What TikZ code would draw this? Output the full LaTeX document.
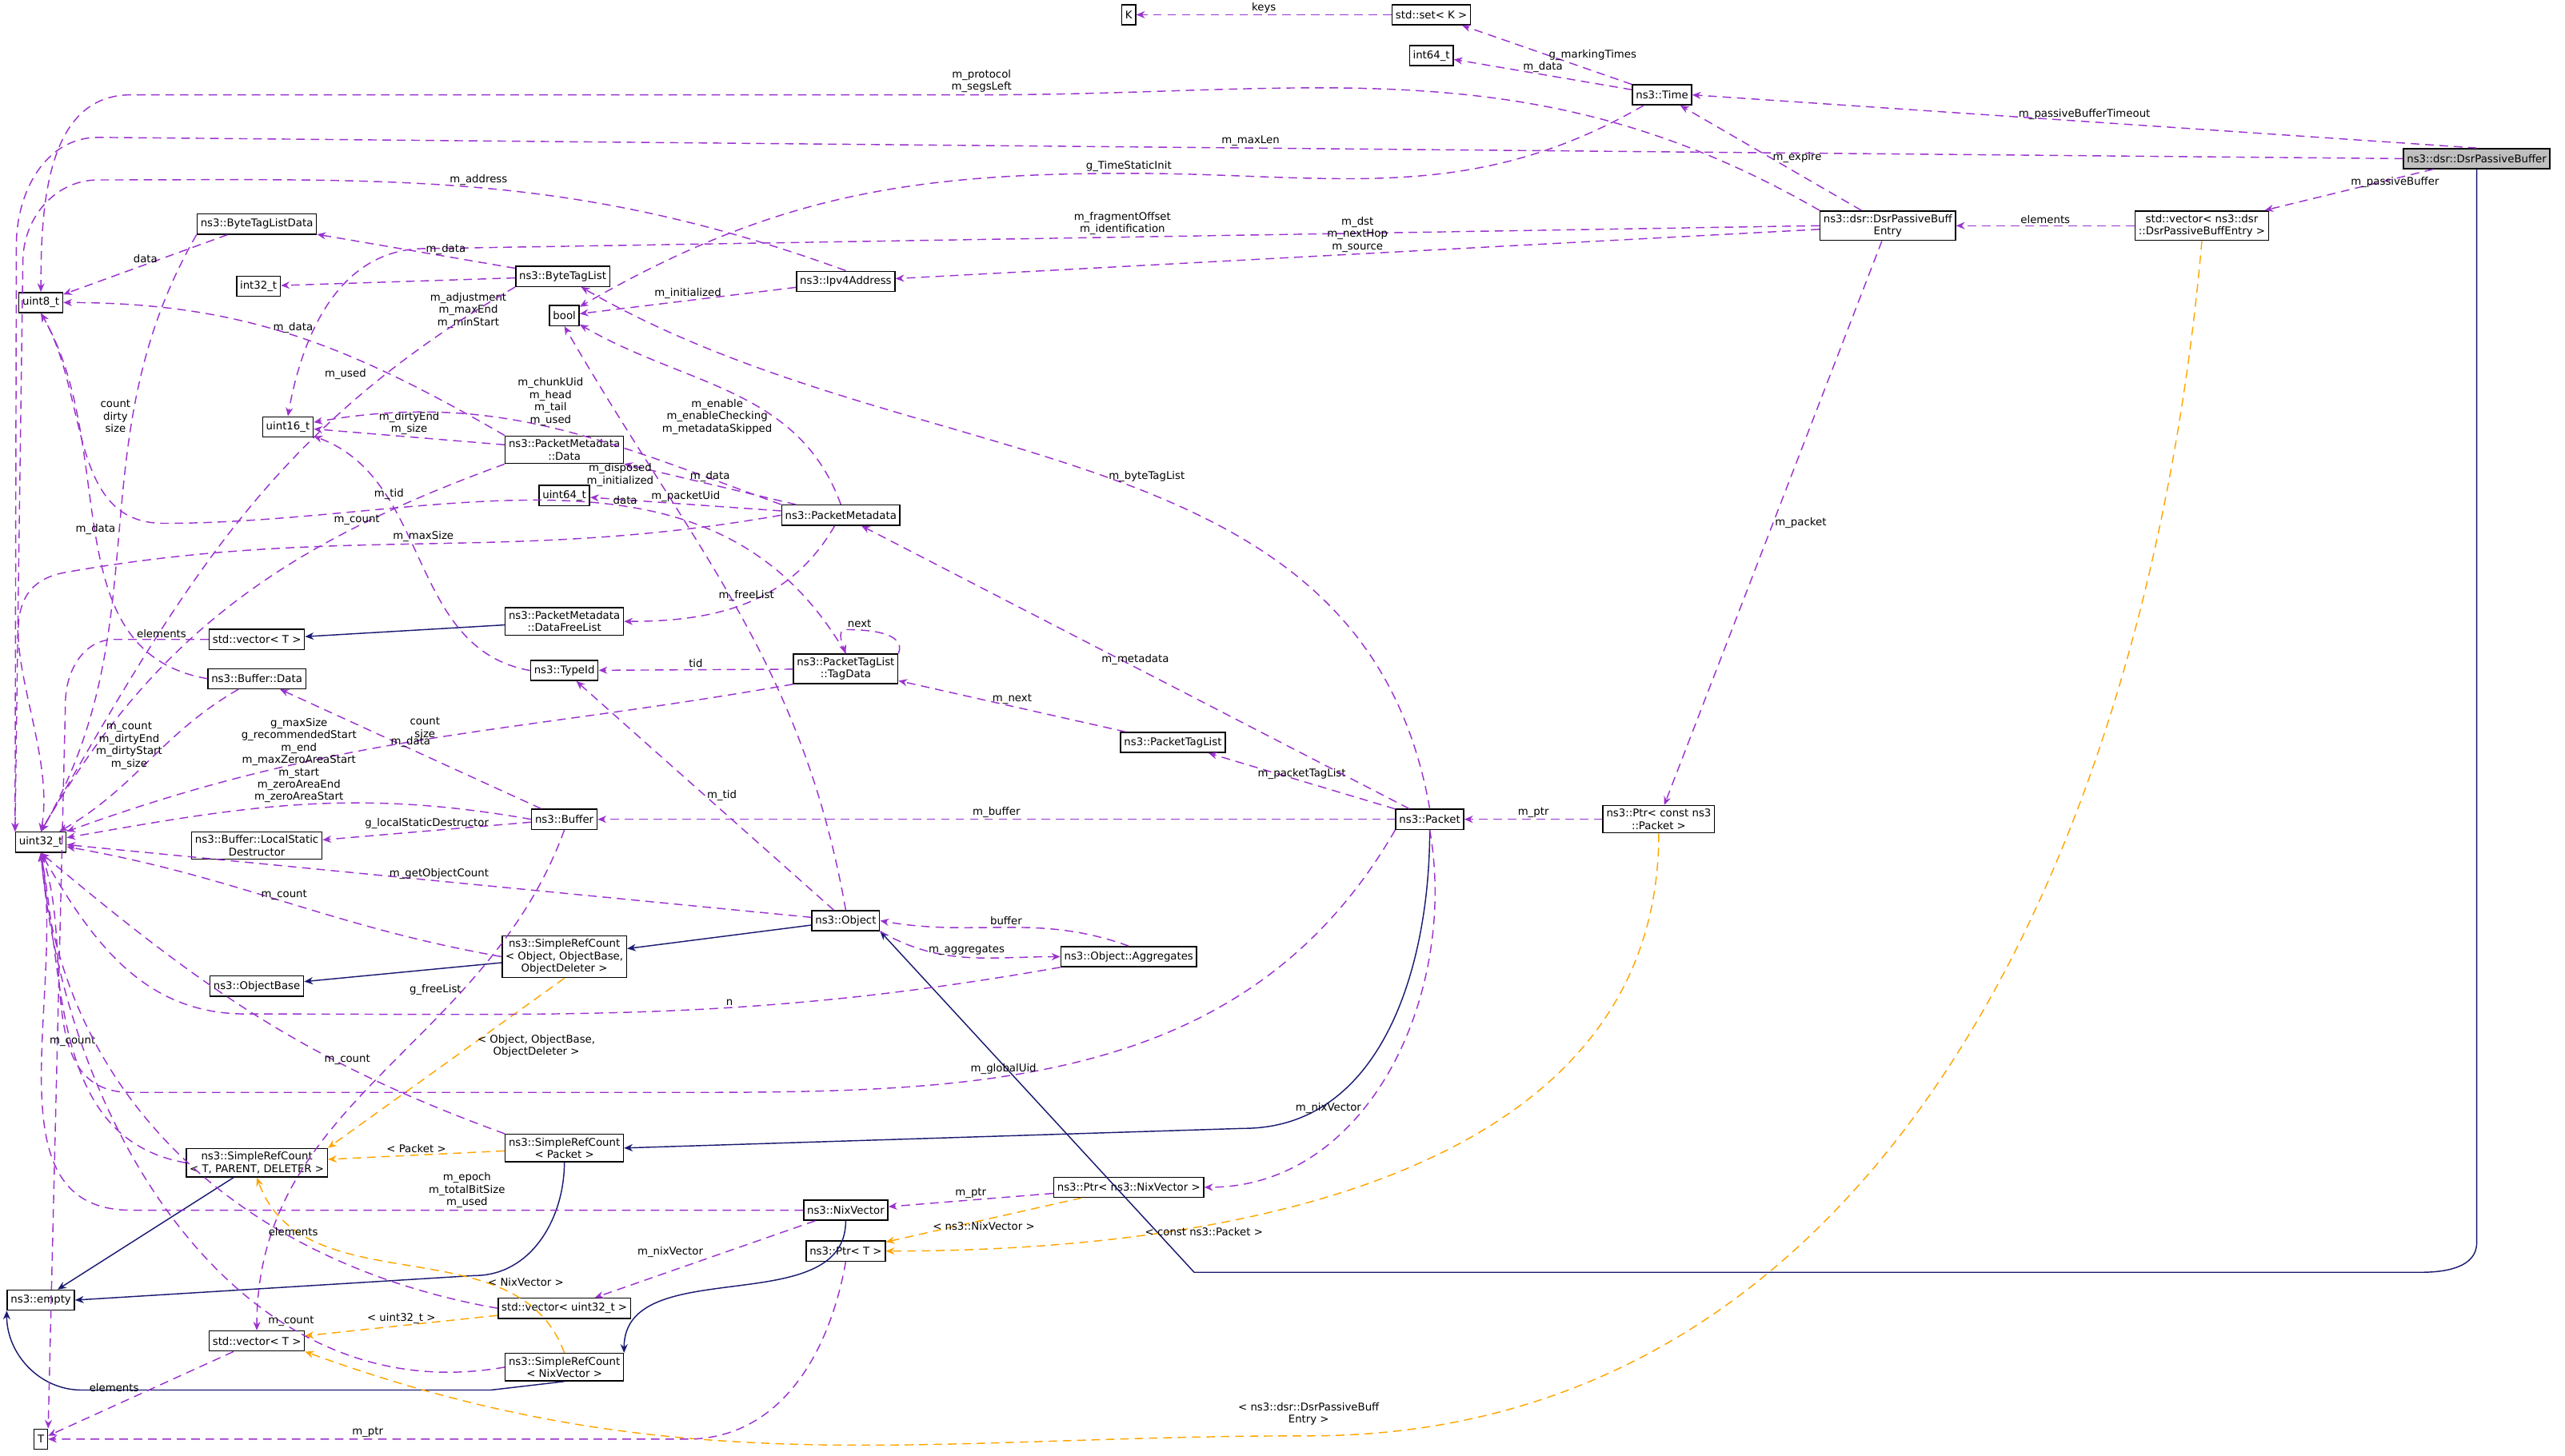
\documentclass[tikz,border=0pt]{standalone}
\usepackage{fontspec}
\setmainfont{DejaVu Sans}
\usetikzlibrary{arrows.meta,positioning}
\definecolor{dep}{HTML}{9A32CD}
\definecolor{tpl}{HTML}{FFA500}
\definecolor{inh}{HTML}{191970}
\tikzset{
  cls/.style={draw, fill=white, inner sep=1.2pt, minimum height=7pt, align=center, font=\fontsize{3.7}{4.3}\selectfont},
  lbl/.style={inner sep=0.5pt, align=center, font=\fontsize{3.7}{4.3}\selectfont},
  use/.style={-{Stealth[length=3pt,width=2.5pt]}, densely dashed, draw=dep, thin},
  inst/.style={-{Stealth[length=3pt,width=2.5pt]}, densely dashed, draw=tpl, thin},
  base/.style={-{Stealth[length=3pt,width=2.5pt]}, draw=inh, thin}
}
\begin{document}
\begin{tikzpicture}[x=0.02cm,y=-0.02cm]
    \useasboundingbox (0,0) rectangle (1568,890);

    % classes
    \node[cls, fill=black!25] (dpb) at (1514,97) {ns3::dsr::DsrPassiveBuffer};
    \node[cls] (k) at (690,9) {K};
    \node[cls] (setk) at (875,9) {std::set< K >};
    \node[cls] (i64) at (875,34) {int64\_t};
    \node[cls] (time) at (1016,58) {ns3::Time};
    \node[cls] (entry) at (1154,138) {ns3::dsr::DsrPassiveBuff\\Entry};
    \node[cls] (vecentry) at (1346,138) {std::vector< ns3::dsr\\::DsrPassiveBuffEntry >};
    \node[cls] (btld) at (157,137) {ns3::ByteTagListData};
    \node[cls] (i32) at (158,175) {int32\_t};
    \node[cls] (btl) at (344,169) {ns3::ByteTagList};
    \node[cls] (ipv4) at (517,172) {ns3::Ipv4Address};
    \node[cls] (bool) at (345,193) {bool};
    \node[cls] (u8) at (25,185) {uint8\_t};
    \node[cls] (u16) at (176,261) {uint16\_t};
    \node[cls] (pmdata) at (345,275) {ns3::PacketMetadata\\::Data};
    \node[cls] (u64) at (345,303) {uint64\_t};
    \node[cls] (pm) at (514,315) {ns3::PacketMetadata};
    \node[cls] (vect) at (157,391) {std::vector< T >};
    \node[cls] (freelist) at (345,380) {ns3::PacketMetadata\\::DataFreeList};
    \node[cls] (typeid) at (345,410) {ns3::TypeId};
    \node[cls] (tagdata) at (517,409) {ns3::PacketTagList\\::TagData};
    \node[cls] (bufdata) at (157,415) {ns3::Buffer::Data};
    \node[cls] (ptl) at (717,454) {ns3::PacketTagList};
    \node[cls] (u32) at (25,515) {uint32\_t};
    \node[cls] (buffer) at (345,501) {ns3::Buffer};
    \node[cls] (lsd) at (157,517) {ns3::Buffer::LocalStatic\\Destructor};
    \node[cls] (packet) at (874,501) {ns3::Packet};
    \node[cls] (ptrpkt) at (1014,501) {ns3::Ptr< const ns3\\::Packet >};
    \node[cls] (object) at (517,563) {ns3::Object};
    \node[cls] (srcobj) at (345,585) {ns3::SimpleRefCount\\< Object, ObjectBase,\\ObjectDeleter >};
    \node[cls] (aggr) at (690,585) {ns3::Object::Aggregates};
    \node[cls] (objbase) at (157,603) {ns3::ObjectBase};
    \node[cls] (srcpkt) at (345,702) {ns3::SimpleRefCount\\< Packet >};
    \node[cls] (srctpl) at (157,711) {ns3::SimpleRefCount\\< T, PARENT, DELETER >};
    \node[cls] (nix) at (517,740) {ns3::NixVector};
    \node[cls] (ptrnix) at (690,726) {ns3::Ptr< ns3::NixVector >};
    \node[cls] (ptrt) at (517,765) {ns3::Ptr< T >};
    \node[cls] (empty) at (25,795) {ns3::empty};
    \node[cls] (vecu32) at (345,800) {std::vector< uint32\_t >};
    \node[cls] (vect2) at (157,820) {std::vector< T >};
    \node[cls] (srcnix) at (345,836) {ns3::SimpleRefCount\\< NixVector >};
    \node[cls] (t) at (25,880) {T};

    % inheritance
    \draw[base] (freelist) -- (vect);
    \draw[base] (object) -- (srcobj);
    \draw[base] (srcobj) -- (objbase);
    \draw[base] (packet.south) to[out=-90,in=0] (760,690) -- (srcpkt.east);
    \draw[base] (dpb.south) -- (1514,760) to[out=-90,in=0] (1480,778) -- (730,778) -- (object.south east);
    \draw[base] (srctpl) -- (empty);
    \draw[base] (srcpkt.south) to[out=-90,in=0] (290,780) -- (empty.east);
    \draw[base] (nix.south) to[out=-90,in=90] (srcnix.north east);
    \draw[base] (srcnix.south) -- (300,850) -- (50,850) to[out=180,in=-90] (empty.south west);

    % templates
    \draw[inst] (srcobj.south) -- node[lbl, right=2pt, pos=0.4] {< Object, ObjectBase,\\ObjectDeleter >} (srctpl.north east);
    \draw[inst] (srcpkt) -- node[lbl, above] {< Packet >} (srctpl);
    \draw[inst] (srcnix.north) to[out=110,in=-70] node[lbl, pos=0.3, right] {< NixVector >} (srctpl.south);
    \draw[inst] (ptrnix) -- node[lbl, below] {< ns3::NixVector >} (ptrt);
    \draw[inst] (ptrpkt.south) to[out=-90,in=0] node[lbl, pos=0.7, below] {< const ns3::Packet >} (ptrt.east);
    \draw[inst] (vecu32) -- node[lbl, above] {< uint32\_t >} (vect2);
    \draw[inst] (vecentry.south) to[out=-95,in=0] (800,878) node[lbl, above=3pt] {< ns3::dsr::DsrPassiveBuff\\Entry >} to[out=180,in=-20] (vect2.south east);

    % members
    \draw[use] (setk) -- node[lbl, above] {keys} (k);
    \draw[use] (time) -- node[lbl, right] {g\_markingTimes} (setk);
    \draw[use] (time) -- node[lbl, above] {m\_data} (i64);
    \draw[use] (dpb.north) -- node[lbl, above] {m\_passiveBufferTimeout} (time.east);
    \draw[use] (dpb.west) -- node[lbl, above, pos=0.5] {m\_maxLen} (60,84) to[out=180,in=90] (10,150) -- (u32.north west);
    \draw[use] (dpb) -- node[lbl, above right] {m\_passiveBuffer} (vecentry);
    \draw[use] (vecentry) -- node[lbl, above] {elements} (entry);
    \draw[use] (entry) -- node[lbl, right] {m\_expire} (time);
    \draw[use] (entry.north west) to[out=150,in=0] (600,58) node[lbl, above] {m\_protocol\\m\_segsLeft} -- (80,58) to[out=180,in=90] (u8.north);
    \draw[use] (entry.west) -- node[lbl, above] {m\_fragmentOffset\\m\_identification} (260,152) to[out=180,in=80] (u16.north);
    \draw[use] (entry) -- node[lbl, above] {m\_dst\\m\_nextHop\\m\_source} (ipv4);
    \draw[use] (entry) -- node[lbl, right] {m\_packet} (ptrpkt);
    \draw[use] (time) to[out=-150,in=0] (690,106) node[lbl, above] {g\_TimeStaticInit} to[out=180,in=30] (bool);
    \draw[use] (ipv4.north) to[out=160,in=0] node[lbl, above] {m\_address} (60,110) to[out=180,in=90] (14,160) -- (u32.north west);
    \draw[use] (ipv4) -- node[lbl, above] {m\_initialized} (bool);
    \draw[use] (btld) -- node[lbl, above] {data} (u8);
    \draw[use] (btld.south west) to[out=-120,in=60] node[lbl, pos=0.3, left] {count\\dirty\\size} (u32.north);
    \draw[use] (btl) -- node[lbl, above, pos=0.35] {m\_data} (btld);
    \draw[use] (btl) -- node[lbl, below=4pt, pos=0.2] {m\_adjustment\\m\_maxEnd\\m\_minStart} (i32);
    \draw[use] (btl.south west) to[out=-150,in=60] node[lbl, pos=0.2, left=6pt] {m\_used} (u32.north);
    \draw[use] (pmdata.north west) to[out=150,in=0] node[lbl, above] {m\_data} (u8);
    \draw[use] (pmdata) -- node[lbl, above] {m\_dirtyEnd\\m\_size} (u16);
    \draw[use] (pmdata.south west) to[out=-160,in=60] node[lbl, pos=0.25, above] {m\_count} (u32.north);
    \draw[use] (pm.north west) to[out=160,in=10] node[lbl, above] {m\_chunkUid\\m\_head\\m\_tail\\m\_used} (u16);
    \draw[use] (pm.north) to[out=110,in=-30] node[lbl, pos=0.35, left] {m\_enable\\m\_enableChecking\\m\_metadataSkipped} (bool);
    \draw[use] (pm) -- node[lbl, above] {m\_data} (pmdata);
    \draw[use] (pm) -- node[lbl, above] {m\_packetUid} (u64);
    \draw[use] (pm) to[out=-120,in=0] node[lbl, above] {m\_freeList} (freelist);
    \draw[use] (pm.west) to[out=-170,in=10] node[lbl, above] {m\_maxSize} (40,350) to[out=190,in=80] (u32.north);
    \draw[use] (vect.west) -- node[lbl, above] {elements} (70,391) to[out=180,in=90] (40,430) -- (t.north east);
    \draw[use] (tagdata.north) to[out=120,in=0] node[lbl, above, pos=0.4] {data} (100,320) to[out=180,in=-60] (u8.south);
    \draw[use] (tagdata) -- node[lbl, above] {tid} (typeid);
    \draw[use] (tagdata.north east) to[out=70,in=0] (517,385) node[lbl, above right] {next} to[out=180,in=110] (tagdata.north);
    \draw[use] (tagdata.south west) to[out=-170,in=20] node[lbl, pos=0.5, above] {count\\size} (u32.north east);
    \draw[use] (typeid.west) to[out=170,in=-20] node[lbl, pos=0.7, above] {m\_tid} (u16);
    \draw[use] (bufdata.west) to[out=170,in=-60] node[lbl, above] {m\_data} (u8.south);
    \draw[use] (bufdata) to[out=-150,in=30] node[lbl, pos=0.4, left] {m\_count\\m\_dirtyEnd\\m\_dirtyStart\\m\_size} (u32);
    \draw[use] (buffer) -- node[lbl, above] {m\_data} (bufdata);
    \draw[use] (buffer.west) to[out=170,in=10] node[lbl, above] {g\_maxSize\\g\_recommendedStart\\m\_end\\m\_maxZeroAreaStart\\m\_start\\m\_zeroAreaEnd\\m\_zeroAreaStart} (u32);
    \draw[use] (buffer) -- node[lbl, above] {g\_localStaticDestructor} (lsd);
    \draw[use] (buffer.south) to[out=-110,in=90] node[lbl, pos=0.3, left] {g\_freeList} (vect2);
    \draw[use] (ptl) -- node[lbl, above] {m\_next} (tagdata);
    \draw[use] (packet) -- node[lbl, above] {m\_packetTagList} (ptl);
    \draw[use] (packet) -- node[lbl, above] {m\_metadata} (pm);
    \draw[use] (packet.north) to[out=100,in=-30] node[lbl, pos=0.5, right] {m\_byteTagList} (btl);
    \draw[use] (packet) -- node[lbl, above] {m\_buffer} (buffer);
    \draw[use] (packet.south west) to[out=-120,in=0] node[lbl, above, pos=0.6] {m\_globalUid} (400,668) -- (80,668) to[out=180,in=-70] (u32.south);
    \draw[use] (packet.south) to[out=-80,in=0] node[lbl, pos=0.6, left] {m\_nixVector} (ptrnix);
    \draw[use] (ptrpkt) -- node[lbl, above] {m\_ptr} (packet);
    \draw[use] (object) -- node[lbl, right] {m\_tid} (typeid);
    \draw[use] (object.north) to[out=100,in=-60] node[lbl, pos=0.75, left] {m\_disposed\\m\_initialized} (bool.south);
    \draw[use] (object) -- node[lbl, above] {m\_getObjectCount} (u32);
    \draw[use] (object.south east) to[out=-30,in=180] node[lbl, above] {m\_aggregates} (aggr.west);
    \draw[use] (aggr.north) to[out=160,in=-10] node[lbl, above] {buffer} (object.east);
    \draw[use] (aggr.south west) to[out=-170,in=0] node[lbl, above, pos=0.4] {n} (150,620) to[out=180,in=-60] (u32.south);
    \draw[use] (srcobj.west) to[out=170,in=-10] node[lbl, above] {m\_count} (u32);
    \draw[use] (srcpkt.north west) to[out=160,in=-40] node[lbl, pos=0.3, above] {m\_count} (u32.south);
    \draw[use] (srctpl.west) to[out=170,in=-80] node[lbl, above] {m\_count} (u32.south);
    \draw[use] (nix.west) -- node[lbl, above, pos=0.5] {m\_epoch\\m\_totalBitSize\\m\_used} (80,740) to[out=180,in=-80] (u32.south);
    \draw[use] (nix) -- node[lbl, above left] {m\_nixVector} (vecu32);
    \draw[use] (srcnix.west) to[out=190,in=-85] node[lbl, above, pos=0.3] {m\_count} (u32.south);
    \draw[use] (ptrnix) -- node[lbl, above] {m\_ptr} (nix);
    \draw[use] (ptrt.south) to[out=-100,in=0] (420,880) -- node[lbl, above] {m\_ptr} (t.east);
    \draw[use] (vecu32.west) to[out=170,in=-85] node[lbl, above, pos=0.3] {elements} (u32.south);
    \draw[use] (vect2) -- node[lbl, above left] {elements} (t);
\end{tikzpicture}
\end{document}
